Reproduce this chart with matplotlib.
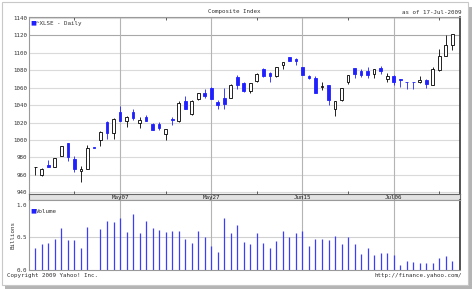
import matplotlib
matplotlib.use("Agg")
import matplotlib.pyplot as plt
from matplotlib.patches import Rectangle

# ---- data ----
opens = [968.5, 959.6, 971.7, 969.3, 981.8, 996.0, 978.0, 964.5, 967.2, 990.7,
         1000.0, 1021.0, 1008.0, 1031.5, 1021.8, 1032.0, 1019.2, 1026.7, 1018.4, 1018.4,
         1007.3, 1023.7, 1022.2, 1044.7, 1029.6, 1046.6, 1054.1, 1060.0, 1043.5, 1048.2,
         1048.2, 1071.8, 1065.0, 1056.5, 1067.1, 1081.5, 1076.8, 1072.9, 1085.4, 1094.7,
         1092.3, 1083.8, 1072.9, 1070.8, 1061.0, 1063.1, 1035.1, 1045.4, 1065.9, 1082.7,
         1079.5, 1079.5, 1075.7, 1082.0, 1069.8, 1073.6, 1069.3, 1066.2, 1066.2, 1065.9,
         1069.0, 1063.1, 1080.0, 1096.6, 1108.7]
highs = [969.5, 967.5, 977.0, 979.5, 993.0, 996.5, 982.0, 969.6, 994.6, 990.7,
         1010.0, 1021.5, 1025.6, 1039.0, 1027.0, 1035.0, 1026.0, 1028.4, 1019.5, 1020.3,
         1013.0, 1026.7, 1045.0, 1050.6, 1045.5, 1054.0, 1058.0, 1061.0, 1045.4, 1059.0,
         1064.0, 1074.8, 1066.0, 1065.5, 1076.5, 1082.0, 1077.5, 1084.0, 1089.5, 1095.0,
         1093.6, 1084.0, 1074.8, 1073.0, 1066.0, 1063.5, 1045.0, 1059.5, 1075.0, 1083.0,
         1081.5, 1083.5, 1081.0, 1084.7, 1076.8, 1074.0, 1069.5, 1066.3, 1066.3, 1072.9,
         1069.8, 1083.5, 1104.6, 1120.0, 1122.0]
lows = [959.5, 959.0, 968.5, 969.0, 981.5, 975.5, 963.0, 952.0, 967.0, 990.7,
        993.3, 1000.7, 1000.7, 1022.0, 1014.4, 1023.0, 1013.7, 1021.5, 1011.0, 1011.0,
        1000.0, 1017.3, 1021.0, 1035.0, 1029.0, 1046.0, 1048.6, 1047.0, 1036.0, 1036.0,
        1048.0, 1058.4, 1055.0, 1054.0, 1066.5, 1072.0, 1067.0, 1072.5, 1080.8, 1090.0,
        1086.0, 1074.0, 1069.8, 1053.3, 1057.2, 1039.6, 1027.3, 1045.0, 1064.2, 1071.0,
        1071.8, 1071.0, 1071.0, 1075.7, 1067.0, 1063.0, 1061.2, 1058.4, 1058.4, 1065.0,
        1060.0, 1062.5, 1079.5, 1096.0, 1102.7]
closes = [969.0, 967.2, 969.0, 979.0, 992.5, 980.0, 967.0, 967.2, 990.7, 990.7,
          1009.2, 1008.0, 1024.0, 1022.2, 1026.2, 1025.6, 1022.9, 1022.2, 1011.8, 1013.7,
          1012.6, 1022.3, 1042.2, 1035.2, 1044.7, 1053.3, 1050.6, 1047.4, 1039.6, 1041.5,
          1063.1, 1063.1, 1056.5, 1065.0, 1076.0, 1072.9, 1072.9, 1083.5, 1089.2, 1090.4,
          1090.8, 1074.2, 1071.3, 1053.5, 1061.5, 1045.4, 1044.7, 1059.2, 1074.8, 1075.7,
          1074.8, 1074.8, 1080.8, 1078.8, 1072.9, 1066.2, 1069.0, 1065.9, 1065.9, 1069.0,
          1064.2, 1080.8, 1096.6, 1108.7, 1121.2]
volumes = [0.34, 0.40, 0.42, 0.48, 0.64, 0.46, 0.46, 0.34, 0.65, 0.0,
           0.62, 0.75, 0.73, 0.79, 0.58, 0.855, 0.56, 0.75, 0.64, 0.61,
           0.58, 0.59, 0.59, 0.47, 0.41, 0.59, 0.51, 0.37, 0.27, 0.79,
           0.56, 0.69, 0.435, 0.39, 0.56, 0.42, 0.33, 0.45, 0.60, 0.51,
           0.56, 0.59, 0.37, 0.47, 0.48, 0.46, 0.52, 0.39, 0.50, 0.39,
           0.25, 0.34, 0.23, 0.26, 0.26, 0.23, 0.07, 0.14, 0.125, 0.11,
           0.10, 0.11, 0.19, 0.21, 0.13]
date_labels = ["May07", "May27", "Jun15", "Jul06"]
date_label_idx = [13, 27, 41, 55]
minor_idx = [6, 20, 34, 48, 62]
price_ticks = [940, 960, 980, 1000, 1020, 1040, 1060, 1080, 1100, 1120, 1140]
vol_ticks = [0.0, 0.5, 1.0]
vol_tick_labels = ["0.0", "0.5", "1.0"]

W, H = 474, 290
fig = plt.figure(figsize=(W / 100, H / 100), dpi=100)
fig.patch.set_facecolor("white")
MONO = "DejaVu Sans Mono"
FS = 4.2

def fx(x):
    return x / W

def fy(y):
    return 1 - y / H

# outer frame with shadow
fig.patches.append(Rectangle((fx(5), fy(289)), fx(467), (287 - 5) / H,
                             transform=fig.transFigure, facecolor="#b4b4b4",
                             edgecolor="none", zorder=-3))
fig.patches.append(Rectangle((fx(2), fy(285)), fx(466), (285 - 2) / H,
                             transform=fig.transFigure, facecolor="white",
                             edgecolor="#c8c8c8", lw=0.8, zorder=-2))

XL = (-0.97, 65.18)
n = len(opens)
xs = list(range(n))
BLUE = "#2020ff"

# ---- price panel ----
axp = fig.add_axes([fx(29), fy(194), fx(460) - fx(29), (194 - 17) / H])
axp.set_facecolor("white")
axp.set_xlim(*XL)
axp.set_ylim(938, 1141)
for v in price_ticks:
    axp.axhline(v, color="#a8a8a8" if v == 1120 else "#dadada", lw=0.8, zorder=0)
for i in date_label_idx:
    axp.axvline(i, color="#b4b4b4", lw=0.8, zorder=0)
for i in range(n):
    o, h, l, c = opens[i], highs[i], lows[i], closes[i]
    up = c > o
    col = "black" if up else BLUE
    axp.vlines(i, l, h, color=col, lw=0.6, zorder=2)
    bh = max(abs(c - o), 0.8)
    axp.bar(i, bh, bottom=min(o, c), width=0.42,
            color="white" if up else BLUE, edgecolor=col, lw=0.6, zorder=3)
axp.set_yticks(price_ticks)
axp.set_yticklabels([str(v) for v in price_ticks], fontsize=FS, family=MONO, color="#333333")
axp.tick_params(axis="y", length=0, pad=1.5)
axp.set_xticks(minor_idx)
axp.set_xticklabels([])
axp.tick_params(axis="x", length=2, direction="in", top=True, bottom=True, color="#444444", width=0.6)
for s in ["left", "top", "bottom"]:
    axp.spines[s].set_color("#9a9a9a")
    axp.spines[s].set_linewidth(0.8)
axp.spines["right"].set_color("#333333")
axp.spines["right"].set_linewidth(1.2)
axp.text(0.004, 0.965, "\u25a0", transform=axp.transAxes, color=BLUE, fontsize=4.5,
         family="DejaVu Sans", va="center", ha="left")
axp.text(0.016, 0.965, "^XLSE - Daily", transform=axp.transAxes, fontsize=FS,
         family=MONO, va="center", ha="left", color="#333333")

# ---- date band ----
axb = fig.add_axes([fx(29), fy(200), fx(460) - fx(29), (200 - 194) / H])
axb.set_xlim(*XL)
axb.set_ylim(0, 1)
axb.set_facecolor("#e2e2e2")
axb.set_yticks([])
axb.set_xticks([])
for i in date_label_idx:
    axb.axvline(i, color="#9a9a9a", lw=0.8)
for i, lab in zip(date_label_idx, date_labels):
    axb.text(i, 0.45, lab, fontsize=FS, family=MONO, ha="center", va="center", color="#222222")
for s in axb.spines.values():
    s.set_color("#666666")
    s.set_linewidth(0.8)

# ---- volume panel ----
axv = fig.add_axes([fx(29), fy(270), fx(460) - fx(29), (270 - 200) / H])
axv.set_facecolor("white")
axv.set_xlim(*XL)
axv.set_ylim(0, 1.07)
axv.axhline(0.5, color="#d0d0d0", lw=0.8, zorder=0)
for i in date_label_idx:
    axv.axvline(i, color="#b4b4b4", lw=0.8, zorder=0)
axv.vlines(xs, 0, volumes, color="#3c3cff", lw=0.9, zorder=2)
axv.set_yticks(vol_ticks)
axv.set_yticklabels(vol_tick_labels, fontsize=FS, family=MONO, color="#333333")
axv.tick_params(axis="y", length=0, pad=1.5)
axv.set_xticks([])
axv.set_ylabel("Billions", fontsize=FS, family=MONO, color="#333333", labelpad=1)
for s in ["left", "top", "bottom"]:
    axv.spines[s].set_color("#9a9a9a")
    axv.spines[s].set_linewidth(0.8)
axv.spines["right"].set_color("#333333")
axv.spines["right"].set_linewidth(1.2)
axv.text(0.004, 0.84, "\u25a0", transform=axv.transAxes, color=BLUE, fontsize=4.5,
         family="DejaVu Sans", va="center", ha="left")
axv.text(0.016, 0.84, "Volume", transform=axv.transAxes, fontsize=FS,
         family=MONO, va="center", ha="left", color="#333333")

# ---- texts ----
fig.text(fx(234), fy(12), "Composite Index", fontsize=FS, family=MONO, ha="center",
         va="center", color="#333333")
fig.text(fx(462), fy(12), "as of 17-Jul-2009", fontsize=FS, family=MONO, ha="right",
         va="center", color="#333333")
fig.text(fx(7), fy(275.5), "Copyright 2009 Yahoo! Inc.", fontsize=FS, family=MONO,
         ha="left", va="center", color="#333333")
fig.text(fx(462), fy(275.5), "http://finance.yahoo.com/", fontsize=FS, family=MONO,
         ha="right", va="center", color="#333333")

fig.savefig("out.png", dpi=100)
